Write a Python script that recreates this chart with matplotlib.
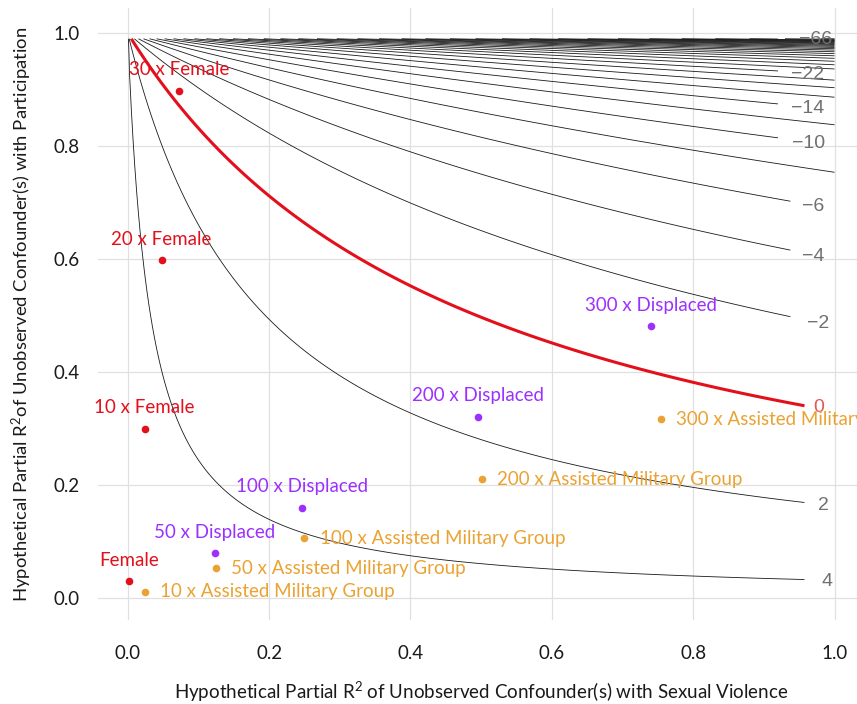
import numpy as np
import matplotlib.pyplot as plt

plt.rcParams['font.family'] = ['Lato', 'DejaVu Sans']
plt.rcParams['mathtext.default'] = 'regular'

# sensitivity model: adjusted estimate = estimate - bias(r2_sv, r2_part)
estimate = 5.375
std_error = 0.57
dof = 180
contour_levels = list(range(-70, 5, 2))

# labelled contours, where each line stops and where its label sits
labelled_levels = [-66, -22, -14, -10, -6, -4, -2, 0, 2, 4]
line_end = [0.921, 0.921, 0.921, 0.921, 0.939, 0.939, 0.939, 0.959, 0.959, 0.959]
label_x = [0.973, 0.962, 0.962, 0.963, 0.970, 0.970, 0.977, 0.977, 0.985, 0.989]
label_y = [0.993, 0.931, 0.870, 0.808, 0.697, 0.608, 0.490, 0.340, 0.168, 0.032]

# benchmark points
female_x = [0.0024, 0.024, 0.048, 0.073]
female_y = [0.030, 0.300, 0.598, 0.898]
female_lab = ['Female', '10 x Female', '20 x Female', '30 x Female']

displaced_x = [0.123, 0.246, 0.495, 0.741]
displaced_y = [0.079, 0.160, 0.321, 0.481]
displaced_lab = ['50 x Displaced', '100 x Displaced', '200 x Displaced', '300 x Displaced']

military_x = [0.024, 0.125, 0.250, 0.501, 0.754]
military_y = [0.011, 0.053, 0.106, 0.210, 0.316]
military_lab = ['10 x Assisted Military Group', '50 x Assisted Military Group',
                '100 x Assisted Military Group', '200 x Assisted Military Group',
                '300 x Assisted Military Group']

red = '#e3101c'
purple = '#9b30ff'
orange = '#eaa332'

fig = plt.figure(figsize=(8.57, 7.04), dpi=100)
ax = fig.add_axes([0.1144, 0.1193, 0.894, 0.869])

# contour grid
gx = np.linspace(0, 1, 401)
gy = np.linspace(0, 0.99, 397)
X, Y = np.meshgrid(gx, gy)
Z = estimate - std_error * np.sqrt(dof) * np.sqrt(X * Y / (1 - Y))

plain_levels = [l for l in contour_levels if l not in labelled_levels]
ax.contour(X, Y, Z, levels=plain_levels, colors='#1a1a1a', linewidths=0.6,
           negative_linestyles='solid')

for lev, xe, lx, ly in zip(labelled_levels, line_end, label_x, label_y):
    keep = gx <= xe
    if lev == 0:
        ax.contour(gx[keep], gy, Z[:, keep], levels=[lev], colors=red,
                   linewidths=2.2, zorder=3)
        col = '#e5555c'
    else:
        ax.contour(gx[keep], gy, Z[:, keep], levels=[lev], colors='#1a1a1a',
                   linewidths=0.6, negative_linestyles='solid')
        col = '#707070'
    ax.text(lx, ly, f'{lev}'.replace('-', '\u2212'), ha='center', va='center_baseline',
            fontsize=14, color=col, family=['Liberation Sans', 'DejaVu Sans'])

# benchmarks
ax.scatter(female_x, female_y, s=20, color=red, zorder=4)
for x, y, s in zip(female_x, female_y, female_lab):
    ax.annotate(s, (x, y), xytext=(0, 15), textcoords='offset points',
                ha='center', va='center', color=red, fontsize=13.5)

ax.scatter(displaced_x, displaced_y, s=20, color=purple, zorder=4)
for x, y, s in zip(displaced_x, displaced_y, displaced_lab):
    ax.annotate(s, (x, y), xytext=(0, 15), textcoords='offset points',
                ha='center', va='center', color=purple, fontsize=13.5)

ax.scatter(military_x, military_y, s=20, color=orange, zorder=4)
for x, y, s in zip(military_x, military_y, military_lab):
    ax.annotate(s, (x, y), xytext=(11, 0), textcoords='offset points',
                ha='left', va='center', color=orange, fontsize=13.5)

ax.set_xlim(-0.042, 1.042)
ax.set_ylim(-0.039, 1.044)
ax.set_xticks([0, 0.2, 0.4, 0.6, 0.8, 1.0])
ax.set_yticks([0, 0.2, 0.4, 0.6, 0.8, 1.0])
ax.set_xticklabels(['0.0', '0.2', '0.4', '0.6', '0.8', '1.0'])
ax.set_yticklabels(['0.0', '0.2', '0.4', '0.6', '0.8', '1.0'])
ax.tick_params(length=0, labelsize=13.5, colors='#1a1a1a')
ax.tick_params(axis='x', pad=18)
ax.tick_params(axis='y', pad=13)
for sp in ax.spines.values():
    sp.set_visible(False)
ax.grid(True, color='#e0e0e0', linewidth=0.9)
ax.set_axisbelow(True)

fig.text(0.561, 0.017, 'Hypothetical Partial R$^2$ of Unobserved Confounder(s) with Sexual Violence',
         ha='center', va='center', fontsize=13.5, color='#1a1a1a')
fig.text(0.026, 0.554, 'Hypothetical Partial R$^2$of Unobserved Confounder(s) with Participation',
         ha='center', va='center', rotation=90, fontsize=13.3, color='#1a1a1a')

fig.savefig('out.png', dpi=100)
